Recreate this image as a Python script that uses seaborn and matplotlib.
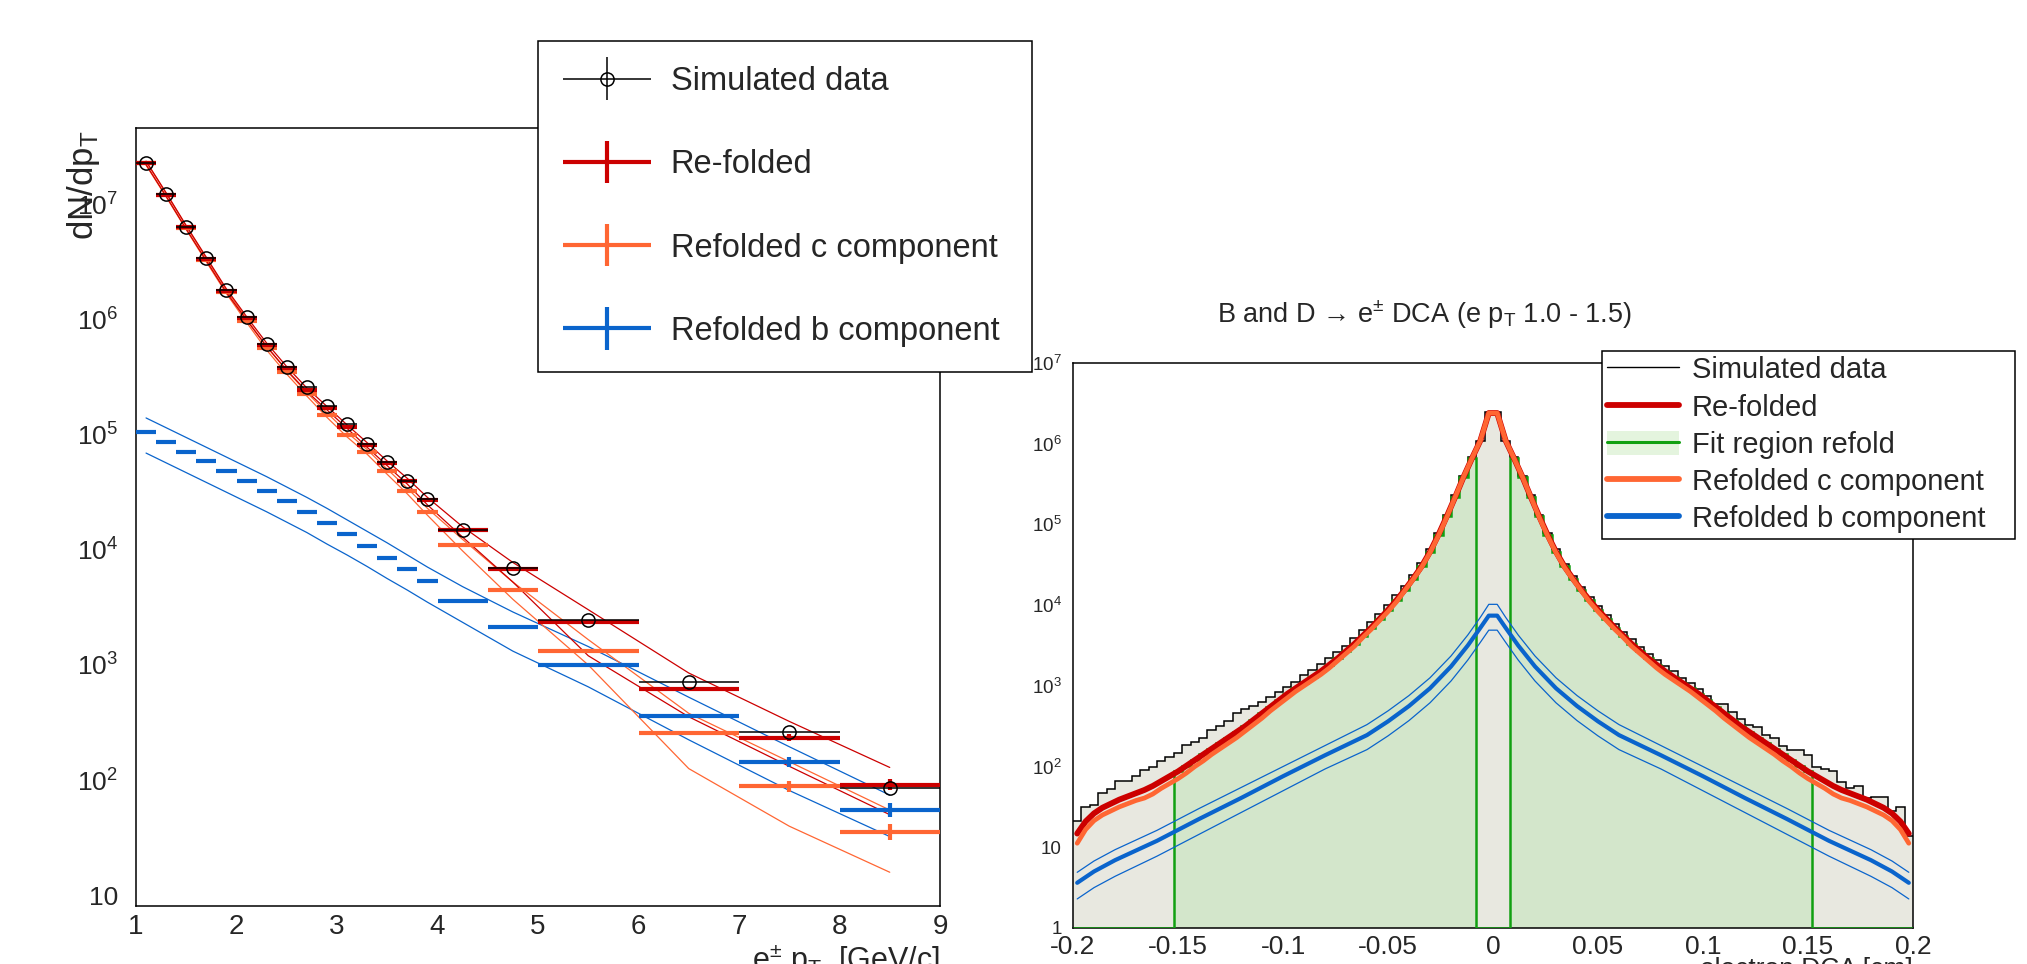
import numpy as np
import matplotlib
matplotlib.use('Agg')
import matplotlib.pyplot as plt
import seaborn as sns
from matplotlib.lines import Line2D
from matplotlib.patches import Patch
from matplotlib.legend_handler import HandlerErrorbar, HandlerTuple
from matplotlib.ticker import MultipleLocator, LogLocator, FuncFormatter, NullFormatter

sns.set_style('white')
plt.rcParams['font.family'] = ['Liberation Sans', 'DejaVu Sans']
plt.rcParams['mathtext.fontset'] = 'custom'
plt.rcParams['mathtext.rm'] = 'Liberation Sans'
plt.rcParams['mathtext.it'] = 'Liberation Sans:italic'
plt.rcParams['mathtext.default'] = 'regular'

# ---------------- left panel: pT spectra (values as log10 dN/dpT) ----------------
pt_edges = [1.0, 1.2, 1.4, 1.6, 1.8, 2.0, 2.2, 2.4, 2.6, 2.8, 3.0, 3.2, 3.4, 3.6, 3.8,
            4.0, 4.5, 5.0, 6.0, 7.0, 8.0, 9.0]
sim_log = [7.36, 7.09, 6.80, 6.53, 6.26, 6.02, 5.79, 5.59, 5.41, 5.25, 5.09, 4.92, 4.76,
           4.60, 4.44, 4.17, 3.84, 3.39, 2.85, 2.42, 1.93]
refold_log = [7.36, 7.085, 6.80, 6.525, 6.25, 6.01, 5.78, 5.575, 5.39, 5.23, 5.07, 4.91,
              4.75, 4.60, 4.43, 4.17, 3.83, 3.37, 2.79, 2.37, 1.96]
c_log = [7.355, 7.08, 6.795, 6.515, 6.24, 5.99, 5.75, 5.54, 5.35, 5.17, 5.00, 4.85, 4.68,
         4.51, 4.33, 4.04, 3.65, 3.12, 2.41, 1.945, 1.55]
b_log = [5.02, 4.936, 4.852, 4.768, 4.684, 4.597, 4.51, 4.423, 4.33, 4.232, 4.136, 4.035,
         3.933, 3.832, 3.728, 3.559, 3.33, 3.0, 2.56, 2.157, 1.74]
# vertical error half widths (decades)
refold_err = [0] * 18 + [0.02, 0.03, 0.05]
c_err = [0] * 17 + [0.01, 0.02, 0.05, 0.07]
b_err = [0] * 18 + [0.01, 0.04, 0.06]
# uncertainty band lines
refold_up = [7.375, 7.10, 6.815, 6.54, 6.265, 6.025, 5.795, 5.59, 5.405, 5.245, 5.085, 4.93,
             4.77, 4.62, 4.455, 4.20, 3.89, 3.48, 2.93, 2.51, 2.11]
refold_lo = [7.345, 7.07, 6.785, 6.51, 6.235, 5.995, 5.765, 5.56, 5.375, 5.215, 5.055, 4.89,
             4.73, 4.57, 4.39, 4.11, 3.72, 3.08, 2.55, 2.12, 1.70]
c_up = [7.37, 7.095, 6.81, 6.53, 6.255, 6.005, 5.765, 5.555, 5.365, 5.19, 5.02, 4.87, 4.70,
        4.535, 4.36, 4.09, 3.72, 3.22, 2.58, 2.16, 1.74]
c_lo = [7.34, 7.065, 6.78, 6.50, 6.225, 5.975, 5.735, 5.525, 5.335, 5.15, 4.98, 4.83, 4.655,
        4.485, 4.30, 3.99, 3.57, 3.00, 2.10, 1.60, 1.20]
b_up = [5.145, 5.06, 4.975, 4.89, 4.805, 4.72, 4.635, 4.545, 4.455, 4.36, 4.26, 4.16, 4.06,
        3.955, 3.85, 3.68, 3.46, 3.16, 2.72, 2.29, 1.87]
b_lo = [4.84, 4.755, 4.67, 4.585, 4.50, 4.415, 4.33, 4.24, 4.15, 4.05, 3.955, 3.855, 3.75,
        3.65, 3.545, 3.37, 3.12, 2.81, 2.35, 1.91, 1.51]

# ---------------- right panel: DCA distributions (log10 counts) ----------------
dca_range = (-0.2, 0.2)
n_dca_bins = 100
fit_inner, fit_outer = 0.008, 0.152
# data, from the centre outwards
data_left_log = [6.39, 6.03, 5.83, 5.60, 5.36, 5.12, 4.90, 4.70, 4.52, 4.37, 4.24, 4.12, 4.00,
                 3.89, 3.79, 3.69, 3.59, 3.50, 3.42, 3.35, 3.27, 3.20, 3.13, 3.05, 2.98, 2.92,
                 2.86, 2.80, 2.75, 2.71, 2.66, 2.56, 2.50, 2.45, 2.36, 2.30, 2.27, 2.17, 2.12,
                 2.07, 1.99, 1.96, 1.88, 1.82, 1.82, 1.72, 1.67, 1.52, 1.50, 1.32]
data_right_log = [6.39, 6.03, 5.83, 5.60, 5.36, 5.12, 4.89, 4.69, 4.51, 4.36, 4.23, 4.10, 3.99,
                  3.88, 3.77, 3.67, 3.58, 3.48, 3.40, 3.32, 3.25, 3.18, 3.10, 3.03, 2.96, 2.87,
                  2.78, 2.78, 2.67, 2.59, 2.52, 2.49, 2.39, 2.35, 2.26, 2.20, 2.20, 2.14, 1.99,
                  1.97, 1.94, 1.81, 1.74, 1.76, 1.61, 1.62, 1.62, 1.45, 1.50, 1.14]
# refolded total and c component (symmetric), centre outwards
refold_half = [6.38, 6.04, 5.82, 5.59, 5.34, 5.10, 4.87, 4.66, 4.48, 4.33, 4.19, 4.06, 3.94,
               3.83, 3.72, 3.62, 3.52, 3.43, 3.34, 3.26, 3.18, 3.11, 3.04, 2.97, 2.90, 2.82,
               2.74, 2.66, 2.58, 2.50, 2.43, 2.36, 2.29, 2.22, 2.15, 2.08, 2.01, 1.94, 1.88,
               1.82, 1.76, 1.71, 1.67, 1.63, 1.59, 1.54, 1.49, 1.42, 1.32, 1.17]
c_half = [6.38, 6.04, 5.82, 5.59, 5.34, 5.09, 4.86, 4.65, 4.47, 4.32, 4.18, 4.04, 3.92, 3.81,
          3.70, 3.60, 3.49, 3.40, 3.31, 3.22, 3.14, 3.07, 3.00, 2.93, 2.85, 2.77, 2.69, 2.60,
          2.52, 2.44, 2.36, 2.29, 2.22, 2.15, 2.07, 2.00, 1.92, 1.85, 1.79, 1.73, 1.66, 1.61,
          1.58, 1.54, 1.50, 1.45, 1.40, 1.33, 1.22, 1.05]
# b component with band
b_dca = [0.002, 0.006, 0.012, 0.02, 0.03, 0.04, 0.05, 0.06, 0.08, 0.10, 0.12, 0.14, 0.16,
         0.18, 0.19, 0.198]
bdca_mid = [3.87, 3.72, 3.50, 3.24, 2.97, 2.75, 2.56, 2.39, 2.14, 1.88, 1.61, 1.35, 1.08,
            0.84, 0.70, 0.56]
bdca_up = [4.01, 3.85, 3.63, 3.37, 3.10, 2.88, 2.69, 2.52, 2.26, 2.00, 1.74, 1.48, 1.21,
           0.97, 0.83, 0.69]
bdca_lo = [3.69, 3.54, 3.32, 3.06, 2.79, 2.57, 2.38, 2.21, 1.97, 1.70, 1.43, 1.16, 0.89,
           0.64, 0.50, 0.36]

RED, ORANGE, BLUE = '#cc0000', '#ff6633', '#0a64cc'
GREEN = '#11a011'

W, H = 2027, 964
fig = plt.figure(figsize=(W / 100, H / 100), dpi=100)
ax1 = fig.add_axes([136 / W, 1 - 906 / H, 804 / W, 778 / H])
ax2 = fig.add_axes([1073 / W, 1 - 928 / H, 840 / W, 565 / H])


def pw(a):
    return 10 ** np.asarray(a, dtype=float)


def asym(vals, err):
    v = pw(vals)
    e = np.asarray(err, dtype=float)
    return [v - v / 10 ** e, v * 10 ** e - v]


def log_label(v, pos):
    if v <= 0:
        return ''
    n = int(round(np.log10(v)))
    if n == 0:
        return '1'
    if n == 1:
        return '10'
    return r'$10^{%d}$' % n


# ---- left panel ----
ax1.set_yscale('log')
edges = np.array(pt_edges)
pt_mid = (edges[:-1] + edges[1:]) / 2
pt_half = (edges[1:] - edges[:-1]) / 2

for up, lo, col in [(b_up, b_lo, BLUE), (c_up, c_lo, ORANGE), (refold_up, refold_lo, RED)]:
    for arr in (up, lo):
        sns.lineplot(x=pt_mid, y=pw(arr), color=col, lw=0.9, ax=ax1,
                     estimator=None, sort=False, legend=False, zorder=3)

eb_sim = ax1.errorbar(pt_mid, pw(sim_log), xerr=pt_half, yerr=np.zeros(len(pt_mid)), fmt='o',
                      ms=9.5, mfc='none', mec='k', mew=1.1, ecolor='k', elinewidth=1.1,
                      capsize=0, zorder=6, label='Simulated data')
eb_b = ax1.errorbar(pt_mid, pw(b_log), xerr=pt_half, yerr=asym(b_log, b_err), fmt='none',
                    ecolor=BLUE, elinewidth=3, capsize=0, zorder=4, label='Refolded b component')
eb_c = ax1.errorbar(pt_mid, pw(c_log), xerr=pt_half, yerr=asym(c_log, c_err), fmt='none',
                    ecolor=ORANGE, elinewidth=3, capsize=0, zorder=4, label='Refolded c component')
eb_r = ax1.errorbar(pt_mid, pw(refold_log), xerr=pt_half, yerr=asym(refold_log, refold_err),
                    fmt='none', ecolor=RED, elinewidth=3, capsize=0, zorder=5, label='Re-folded')

ax1.set_xlim(1, 9)
ax1.set_ylim(8.07, 4.6e7)
ax1.xaxis.set_major_locator(MultipleLocator(1))
ax1.xaxis.set_minor_locator(MultipleLocator(0.2))
ax1.yaxis.set_major_locator(LogLocator(base=10))
ax1.yaxis.set_minor_locator(LogLocator(base=10, subs=np.arange(2, 10)))
ax1.yaxis.set_major_formatter(FuncFormatter(log_label))
ax1.yaxis.set_minor_formatter(NullFormatter())
ax1.tick_params(which='both', direction='in', top=False, right=False, width=1)
ax1.tick_params(which='major', length=17)
ax1.tick_params(which='minor', length=8.5)
ax1.tick_params(axis='x', labelsize=20, pad=6)
ax1.tick_params(axis='y', labelsize=19, pad=13)

# ---- right panel ----
ax2.set_yscale('log')
dca_edges = np.linspace(dca_range[0], dca_range[1], n_dca_bins + 1)
dca_mid = (dca_edges[:-1] + dca_edges[1:]) / 2
data_full = pw(data_left_log[::-1] + data_right_log)
refold_full = pw(refold_half[::-1] + refold_half)
c_full = pw(c_half[::-1] + c_half)
in_fit = (np.abs(dca_mid) > fit_inner) & (np.abs(dca_mid) < fit_outer)
fit_vals = np.where(in_fit, refold_full, 1.0)

ax2.stairs(data_full, dca_edges, fill=True, baseline=0.1, color='#e8e8e0', zorder=1)
ax2.stairs(fit_vals, dca_edges, fill=True, baseline=0.1, color='#d3e6cb', zorder=2)
ax2.stairs(data_full, dca_edges, baseline=None, color='k', lw=1.1, zorder=3)
ax2.stairs(fit_vals, dca_edges, baseline=None, color=GREEN, lw=1.8, zorder=3.5)

bx = np.array(b_dca)
b_x = np.concatenate([-bx[::-1], bx])
for arr, lw in [(bdca_up, 0.9), (bdca_lo, 0.9), (bdca_mid, 3.0)]:
    a = np.array(arr)
    sns.lineplot(x=b_x, y=pw(np.concatenate([a[::-1], a])), color=BLUE, lw=lw, ax=ax2,
                 estimator=None, sort=False, legend=False, zorder=4)
sns.lineplot(x=dca_mid, y=refold_full, color=RED, lw=4.2, ax=ax2, estimator=None,
             sort=False, legend=False, zorder=5)
sns.lineplot(x=dca_mid, y=c_full, color=ORANGE, lw=3.4, ax=ax2, estimator=None,
             sort=False, legend=False, zorder=6)

ax2.set_xlim(*dca_range)
ax2.set_ylim(1, 1e7)
ax2.xaxis.set_major_locator(MultipleLocator(0.05))
ax2.xaxis.set_minor_locator(MultipleLocator(0.01))
ax2.xaxis.set_major_formatter(FuncFormatter(lambda v, p: '%g' % (round(v, 3) + 0.0)))
ax2.yaxis.set_major_locator(LogLocator(base=10))
ax2.yaxis.set_minor_locator(LogLocator(base=10, subs=np.arange(2, 10)))
ax2.yaxis.set_major_formatter(FuncFormatter(log_label))
ax2.yaxis.set_minor_formatter(NullFormatter())
ax2.tick_params(which='both', direction='in', top=False, right=False, width=1)
ax2.tick_params(axis='x', which='major', length=13)
ax2.tick_params(axis='x', which='minor', length=6.5)
ax2.tick_params(axis='y', which='major', length=17)
ax2.tick_params(axis='y', which='minor', length=8)
ax2.tick_params(axis='x', labelsize=19, pad=5)
ax2.tick_params(axis='y', labelsize=13.5, pad=8)

for ax in (ax1, ax2):
    for s in ax.spines.values():
        s.set_linewidth(1.1)
        s.set_color('k')
    ax.set_xlabel('')
    ax.set_ylabel('')

fig.text(1424 / W, 1 - 323 / H, 'B and D \u2192 e$^{\u00b1}$ DCA (e p$_{T}$ 1.0 - 1.5)',
         ha='center', va='baseline', fontsize=19.5)

fig.text(84 / W, 1 - 131 / H, 'dN/dp$_{T}$', rotation=90, ha='center', va='top', fontsize=25)
fig.text(940 / W, 1 - 943 / H, 'e$^{\u00b1}$ p$_{T}$  [GeV/c]', ha='right', va='top', fontsize=22)
fig.text(1913 / W, 1 - 957 / H, 'electron DCA [cm]', ha='right', va='top', fontsize=19)

# ---- legends ----
herr = HandlerErrorbar(xerr_size=1.35, yerr_size=0.65, numpoints=1)
leg1 = fig.legend(handles=[eb_sim, eb_r, eb_c, eb_b],
                  labels=['Simulated data', 'Re-folded', 'Refolded c component',
                          'Refolded b component'],
                  loc='upper left',
                  bbox_to_anchor=(538 / W, 1 - 372 / H, (1032 - 538) / W, (372 - 41) / H),
                  bbox_transform=fig.transFigure, mode='expand', borderaxespad=0,
                  fontsize=23.5, handlelength=2.7, handletextpad=0.6, labelspacing=1.6,
                  borderpad=0.77, frameon=True, fancybox=False,
                  edgecolor='k', framealpha=1,
                  handler_map={eb_sim: herr, eb_r: herr, eb_c: herr, eb_b: herr})
leg1.get_frame().set_linewidth(1.1)

h_data = Line2D([], [], color='k', lw=1.0)
h_ref = Line2D([], [], color=RED, lw=4.2)
h_fit = (Patch(facecolor='#e4f4de', edgecolor='none'), Line2D([], [], color=GREEN, lw=2.2))
h_c = Line2D([], [], color=ORANGE, lw=4.2)
h_b = Line2D([], [], color=BLUE, lw=4.2)
leg2 = fig.legend(handles=[h_data, h_ref, h_fit, h_c, h_b],
                  labels=['Simulated data', 'Re-folded', 'Fit region refold',
                          'Refolded c component', 'Refolded b component'],
                  loc='upper left',
                  bbox_to_anchor=(1602 / W, 1 - 538 / H, (2015 - 1602) / W, (538 - 351) / H),
                  bbox_transform=fig.transFigure, mode='expand', borderaxespad=0,
                  fontsize=21, handlelength=2.45, handletextpad=0.45, labelspacing=0.31,
                  handleheight=0.9, borderpad=0.18, frameon=True, fancybox=False,
                  edgecolor='k', framealpha=1,
                  handler_map={tuple: HandlerTuple(ndivide=1, pad=0)})
leg2.get_frame().set_linewidth(1.1)

fig.savefig('out.png', dpi=100)
